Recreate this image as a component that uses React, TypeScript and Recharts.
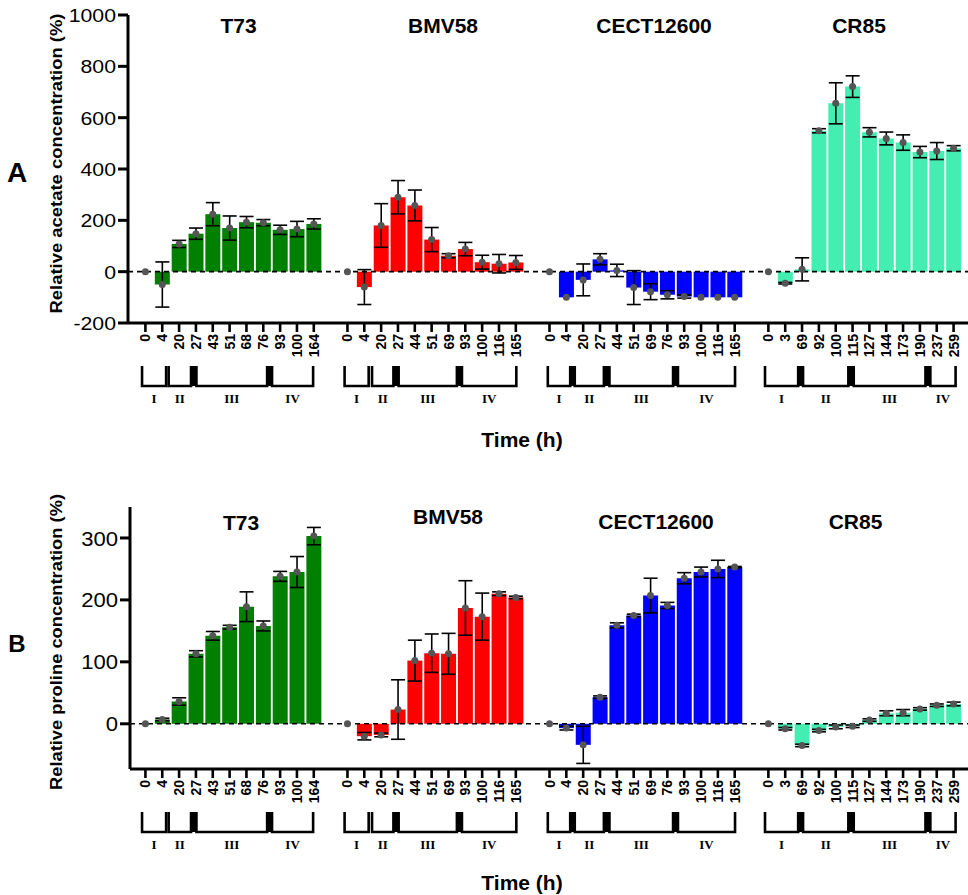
import React from 'react';
import { ComposedChart, Bar, Line, XAxis, YAxis, ReferenceLine, ErrorBar, Cell } from 'recharts';

const FONT = '"Liberation Sans", Arial, Helvetica, sans-serif';
const SERIF = '"Liberation Serif", "Times New Roman", serif';

// ---- categories ----
const STRAINS = ['T73', 'BMV58', 'CECT12600', 'CR85'];
const STRAIN_COLORS = ['#008000', '#ff0000', '#0000ff', '#44eeb2'];

const T73_HOURS = ['0', '4', '20', '27', '43', '51', '68', '76', '93', '100', '164'];
const BMV58_HOURS = ['0', '4', '20', '27', '44', '51', '69', '93', '100', '116', '165'];
const CECT_HOURS = ['0', '4', '20', '27', '44', '51', '69', '76', '93', '100', '116', '165'];
const CR85_HOURS = ['0', '3', '69', '92', '100', '115', '127', '144', '173', '190', '237', '259'];

// ---- panel A: relative acetate concentration (%) ----
const T73_ACE = [0, -50, 108, 148, 224, 170, 193, 191, 163, 166, 186];
const T73_ACE_ERR = [0, 88, 14, 22, 45, 47, 22, 12, 18, 30, 20];
const BMV58_ACE = [0, -60, 180, 290, 258, 125, 62, 88, 37, 31, 36];
const BMV58_ACE_ERR = [0, 68, 85, 65, 60, 47, 8, 26, 27, 36, 27];
const CECT_ACE = [0, -100, -32, 48, 5, -62, -78, -90, -97, -100, -100, -100];
const CECT_ACE_ERR = [0, 0, 62, 22, 24, 66, 31, 16, 6, 0, 0, 0];
const CR85_ACE = [0, -45, 9, 549, 656, 721, 543, 519, 503, 466, 470, 481];
const CR85_ACE_ERR = [0, 3, 45, 8, 80, 42, 18, 25, 30, 22, 33, 10];

// ---- panel B: relative proline concentration (%) ----
const T73_PRO = [0, 7, 36, 113, 142, 156, 189, 158, 238, 245, 303];
const T73_PRO_ERR = [0, 2, 6, 5, 7, 3, 24, 8, 8, 25, 14];
const BMV58_PRO = [0, -20, -18, 23, 102, 114, 113, 187, 173, 210, 204];
const BMV58_PRO_ERR = [0, 6, 3, 48, 33, 31, 33, 44, 38, 3, 2];
const CECT_PRO = [0, -7, -34, 43, 159, 175, 207, 191, 235, 245, 250, 253];
const CECT_PRO_ERR = [0, 3, 30, 2, 4, 2, 28, 5, 9, 8, 14, 1];
const CR85_PRO = [0, -8, -35, -11, -5, -4, 6, 17, 18, 24, 30, 32];
const CR85_PRO_ERR = [0, 2, 2, 2, 3, 2, 2, 4, 5, 2, 2, 3];

// ---- axis ticks ----
const ACE_TICKS = [-200, 0, 200, 400, 600, 800, 1000];
const PRO_TICKS = [0, 100, 200, 300];
const ACE_DOMAIN = [-200, 1000];
const PRO_DOMAIN = [-73, 350];

// ---- growth phases (in category slots, relative to each strain's first time point) ----
const ROMAN = ['I', 'II', 'III', 'IV'];
const PHASES = [
  [[-0.2, 1.23], [1.38, 2.71], [3.03, 7.23], [7.52, 9.96]],
  [[-0.17, 1.26], [1.46, 2.73], [3.04, 6.5], [6.8, 10.03]],
  [[-0.1, 1.23], [1.5, 3.23], [3.56, 7.34], [7.63, 11.02]],
  [[-0.2, 1.77], [2.06, 4.75], [5.07, 9.33], [9.62, 11.12]],
];
const PHASE_BLOCKS = [
  [[2.71, 3.03], [7.23, 7.52]],
  [[2.73, 3.04], [6.5, 6.8]],
  [[1.23, 1.5], [3.23, 3.56], [7.34, 7.63]],
  [[1.77, 2.06], [4.75, 5.07], [9.33, 9.62]],
];

const HOURS = [T73_HOURS, BMV58_HOURS, CECT_HOURS, CR85_HOURS];

type Row = {
  key: string;
  label: string;
  group: number;
  first: boolean;
  v?: number;
  e?: number | null;
  color?: string;
};

function buildRows(values: number[][], errors: number[][]): Row[] {
  const rows: Row[] = [];
  STRAINS.forEach((s, g) => {
    if (g > 0) rows.push({ key: `gap${g}`, label: '', group: -1, first: false });
    HOURS[g].forEach((h, i) => {
      rows.push({
        key: `${s}|${h}`,
        label: h,
        group: g,
        first: i === 0,
        v: values[g][i],
        e: errors[g][i] ? errors[g][i] : null,
        color: STRAIN_COLORS[g],
      });
    });
  });
  return rows;
}

const ROWS_A = buildRows([T73_ACE, BMV58_ACE, CECT_ACE, CR85_ACE], [T73_ACE_ERR, BMV58_ACE_ERR, CECT_ACE_ERR, CR85_ACE_ERR]);
const ROWS_B = buildRows([T73_PRO, BMV58_PRO, CECT_PRO, CR85_PRO], [T73_PRO_ERR, BMV58_PRO_ERR, CECT_PRO_ERR, CR85_PRO_ERR]);

function makeXTick(rows: Row[]) {
  const map = new Map(rows.map((r) => [r.key, r]));
  return (props: any) => {
    const { x, y, payload } = props;
    const row = map.get(payload.value);
    if (!row || row.group < 0) return <g />;
    const slot = payload && payload.offset ? payload.offset * 2 : 16.84;
    const top = y + 43;
    const bottom = y + 63;
    return (
      <g>
        <line x1={x} x2={x} y1={y} y2={y + 9} stroke="#000" strokeWidth={2.6} />
        <text
          x={x}
          y={y + 11}
          dy="0.36em"
          transform={`rotate(-90 ${x} ${y + 11})`}
          textAnchor="end"
          fontFamily={FONT}
          fontWeight="bold"
          fontSize={14}
          fill="#000"
        >
          {row.label}
        </text>
        {row.first && (
          <g>
            {PHASES[row.group].map(([a, b], i) => (
              <path
                key={`p${i}`}
                d={`M${x + a * slot},${top}V${bottom}H${x + b * slot}V${top}`}
                stroke="#000"
                strokeWidth={2.6}
                fill="none"
              />
            ))}
            {PHASE_BLOCKS[row.group].map(([a, b], i) => (
              <rect key={`b${i}`} x={x + a * slot} y={top} width={(b - a) * slot} height={bottom - top} fill="#000" />
            ))}
            {PHASES[row.group].map(([a, b], i) => (
              <text
                key={`r${i}`}
                x={x + ((a + b) / 2) * slot}
                y={y + 80}
                textAnchor="middle"
                fontFamily={SERIF}
                fontWeight="bold"
                fontSize={13}
                fill="#000"
              >
                {ROMAN[i]}
              </text>
            ))}
          </g>
        )}
      </g>
    );
  };
}

function makeYTick(fontSize: number, stretch: number) {
  return (props: any) => {
    const { x, y, payload } = props;
    return (
      <g transform={`translate(${x},${y}) scale(${stretch},1)`}>
        <text x={0} y={0} dy="0.36em" textAnchor="end" fontFamily={FONT} fontSize={fontSize} fill="#000">
          {payload.value}
        </text>
      </g>
    );
  };
}

function Panel(props: {
  rows: Row[];
  height: number;
  marginTop: number;
  xAxisHeight: number;
  yWidth: number;
  padLeft: number;
  domain: number[];
  ticks: number[];
  yFont: number;
  yStretch: number;
}) {
  const { rows, height, marginTop, xAxisHeight, yWidth, padLeft, domain, ticks, yFont, yStretch } = props;
  return (
    <ComposedChart
      width={968}
      height={height}
      data={rows}
      margin={{ top: marginTop, right: 0, bottom: 0, left: 0 }}
      barCategoryGap={1}
    >
      <XAxis
        dataKey="key"
        type="category"
        interval={0}
        height={xAxisHeight}
        padding={{ left: padLeft, right: 6 }}
        axisLine={{ stroke: '#000', strokeWidth: 3 }}
        tickLine={false}
        tickSize={0}
        tickMargin={0}
        tick={makeXTick(rows)}
      />
      <YAxis
        type="number"
        domain={domain}
        ticks={ticks}
        interval={0}
        width={yWidth}
        allowDataOverflow
        axisLine={{ stroke: '#000', strokeWidth: 3 }}
        tickLine={{ stroke: '#000', strokeWidth: 3 }}
        tickSize={10}
        tickMargin={2}
        tick={makeYTick(yFont, yStretch)}
      />
      <ReferenceLine y={0} stroke="#000" strokeWidth={1.6} strokeDasharray="5 4" />
      <Bar dataKey="v" barSize={15} isAnimationActive={false}>
        {rows.map((r) => (
          <Cell key={r.key} fill={r.color || 'none'} />
        ))}
        <ErrorBar dataKey="e" width={7} strokeWidth={1.6} stroke="#000" direction="y" />
      </Bar>
      <Line
        dataKey="v"
        stroke="none"
        isAnimationActive={false}
        activeDot={false}
        legendType="none"
        dot={{ r: 3.5, fill: '#555', stroke: 'none' }}
      />
    </ComposedChart>
  );
}

const TITLE_STYLE = { fontFamily: FONT, fontWeight: 'bold' as const, fill: '#000' };

export default function App() {
  return (
    <div style={{ position: 'absolute', left: 0, top: 0, width: 968, height: 895, background: '#fff' }}>
      <div style={{ position: 'absolute', left: 0, top: 0 }}>
        <Panel
          rows={ROWS_A}
          height={450}
          marginTop={15}
          xAxisHeight={127}
          yWidth={128}
          padLeft={9}
          domain={ACE_DOMAIN}
          ticks={ACE_TICKS}
          yFont={19}
          yStretch={1.12}
        />
      </div>
      <div style={{ position: 'absolute', left: 0, top: 450 }}>
        <Panel
          rows={ROWS_B}
          height={445}
          marginTop={57}
          xAxisHeight={126}
          yWidth={130}
          padLeft={7}
          domain={PRO_DOMAIN}
          ticks={PRO_TICKS}
          yFont={21}
          yStretch={1.05}
        />
      </div>
      <svg
        width={968}
        height={895}
        style={{ position: 'absolute', left: 0, top: 0, pointerEvents: 'none' }}
      >
        {/* panel letters */}
        <text x={17} y={181.5} textAnchor="middle" fontSize={28} {...TITLE_STYLE}>A</text>
        <text x={17} y={651.5} textAnchor="middle" fontSize={24} {...TITLE_STYLE}>B</text>
        {/* y-axis titles */}
        <text
          x={0}
          y={0}
          transform="translate(61.5,163.5) rotate(-90)"
          textAnchor="middle"
          fontSize={16.5}
          textLength={300}
          lengthAdjust="spacingAndGlyphs"
          {...TITLE_STYLE}
        >
          Relative acetate concentration (%)
        </text>
        <text
          x={0}
          y={0}
          transform="translate(61.5,642) rotate(-90)"
          textAnchor="middle"
          fontSize={16.5}
          textLength={296}
          lengthAdjust="spacingAndGlyphs"
          {...TITLE_STYLE}
        >
          Relative proline concentration (%)
        </text>
        {/* strain titles */}
        <text x={238.5} y={33} textAnchor="middle" fontSize={21} {...TITLE_STYLE}>{STRAINS[0]}</text>
        <text x={443} y={33} textAnchor="middle" fontSize={21} {...TITLE_STYLE}>{STRAINS[1]}</text>
        <text x={654} y={33} textAnchor="middle" fontSize={21} {...TITLE_STYLE}>{STRAINS[2]}</text>
        <text x={859} y={33} textAnchor="middle" fontSize={21} {...TITLE_STYLE}>{STRAINS[3]}</text>
        <text x={241} y={530} textAnchor="middle" fontSize={21} {...TITLE_STYLE}>{STRAINS[0]}</text>
        <text x={448} y={524} textAnchor="middle" fontSize={21} {...TITLE_STYLE}>{STRAINS[1]}</text>
        <text x={656} y={529} textAnchor="middle" fontSize={21} {...TITLE_STYLE}>{STRAINS[2]}</text>
        <text x={855.5} y={529} textAnchor="middle" fontSize={21} {...TITLE_STYLE}>{STRAINS[3]}</text>
        {/* x-axis titles */}
        <text x={522} y={447} textAnchor="middle" fontSize={21} {...TITLE_STYLE}>Time (h)</text>
        <text x={522} y={890} textAnchor="middle" fontSize={21} {...TITLE_STYLE}>Time (h)</text>
      </svg>
    </div>
  );
}
